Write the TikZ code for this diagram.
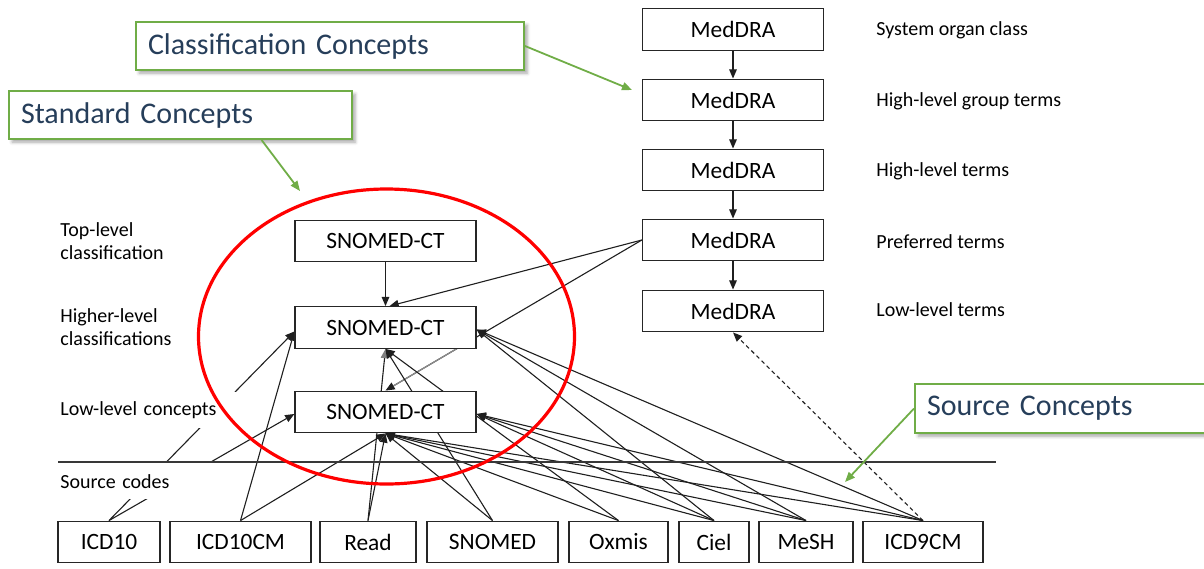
\documentclass[tikz,border=0pt]{standalone}
\usepackage{fontspec}
\setmainfont{Carlito}
\usetikzlibrary{arrows.meta,shadows.blur,calc}
\definecolor{callgreen}{RGB}{112,173,71}
\definecolor{calltext}{RGB}{38,62,90}
\definecolor{shadegrey}{RGB}{237,237,237}
\pgfdeclarelayer{shade}
\pgfdeclarelayer{conn}
\pgfsetlayers{shade,conn,main}

\begin{document}
\begin{tikzpicture}[x=0.5pt,y=-0.5pt,
  box/.style={draw=black!85, line width=0.65pt, fill=white, inner sep=0pt,
    minimum height=20.8pt, font=\fontsize{11.7}{14}\selectfont},
  conceptbox/.style={box, minimum width=90.5pt},
  lbl/.style={inner sep=0pt, anchor=west, align=left, font=\fontsize{10}{11.5}\selectfont},
  coverlbl/.style={anchor=north west, fill=white, inner xsep=2.5pt, inner ysep=0pt,
    minimum height=18pt, align=left, font=\fontsize{10}{11.5}\selectfont},
  callout/.style={anchor=north west, draw=callgreen, line width=1pt, fill=white,
    text=calltext, inner xsep=6pt, inner ysep=0pt, minimum height=24pt, align=left,
    font=\fontsize{15}{18}\selectfont,
    blur shadow={shadow xshift=1.6pt, shadow yshift=-1.6pt, shadow blur radius=1.6pt,
      shadow opacity=35}},
  conn/.style={draw=black!88, line width=0.55pt, -{Triangle[length=4.6pt,width=3.8pt]}},
  callarrow/.style={draw=callgreen, line width=0.9pt, -{Triangle[length=5pt,width=4pt]}}
]
\useasboundingbox (0,0) rectangle (1204,568);

% MedDRA hierarchy
\node[conceptbox] (m1) at (733,29.5) {MedDRA};
\node[conceptbox] (m2) at (733,100) {MedDRA};
\node[conceptbox] (m3) at (733,170) {MedDRA};
\node[conceptbox] (m4) at (733,240) {MedDRA};
\node[conceptbox] (m5) at (733,311) {MedDRA};

\node[lbl] at (876,30)  {System organ class};
\node[lbl] at (876,101) {High-level group terms};
\node[lbl] at (876,171) {High-level terms};
\node[lbl] at (876,242) {Preferred terms};
\node[lbl] at (876,310) {Low-level terms};

% SNOMED-CT hierarchy
\node[conceptbox] (s1) at (385.5,241) {SNOMED-CT};
\node[conceptbox] (s2) at (385.5,327.5) {SNOMED-CT};
\node[conceptbox] (s3) at (385.5,412) {SNOMED-CT};

\node[lbl] at (60,241.5) {Top-level\\classification};
\node[lbl] at (60,327.5) {Higher-level\\classifications};
\node[coverlbl, minimum width=90.5pt, text width=85.5pt] (lowlbl) at (55,392) {Low-level concepts};
\node[coverlbl, minimum width=79.5pt, text width=74.5pt] (srclbl) at (55,463) {Source codes};

% source vocabularies
\node[box, minimum width=51pt]   (icd10)   at (109,542)   {ICD10};
\node[box, minimum width=70.5pt] (icd10cm) at (240.5,542) {ICD10CM};
\node[box, minimum width=48pt]   (read)    at (368,542)   {Read};
\node[box, minimum width=65.5pt] (snomed)  at (492.5,542) {SNOMED};
\node[box, minimum width=49.5pt] (oxmis)   at (618.5,542) {Oxmis};
\node[box, minimum width=35pt]   (ciel)    at (714,542)   {Ciel};
\node[box, minimum width=47pt]   (mesh)    at (806,542)   {MeSH};
\node[box, minimum width=60pt]   (icd9)    at (923,542)   {ICD9CM};

% flat offset shadows behind the boxes
\begin{pgfonlayer}{shade}
  \foreach \n in {m1,m2,m3,m4,m5,s1,s2,s3,icd10,icd10cm,read,snomed,oxmis,ciel,mesh,icd9}
    \fill[shadegrey] ([shift={(10,10)}]\n.south west) rectangle ([shift={(10,10)}]\n.north east);
\end{pgfonlayer}

% boundary between standard and source concepts
\draw[black!78, line width=0.7pt] (58,462) coordinate (hl) -- (996,462) coordinate (hr);

% standard concepts ring
\draw[red, line width=1.6pt] (386.5,336.5) ellipse [x radius=188, y radius=147.5];

% callouts
\node[callout, text width=182pt] (cls) at (135,21) {Classification Concepts};
\node[callout, text width=159.5pt] (std) at (8,90) {Standard Concepts};
\node[callout, text width=151pt, minimum height=24.5pt] (src) at (914,383) {Source Concepts};

\coordinate (clstip) at (632,90);
\coordinate (stdtip) at (300,191);
\coordinate (srctip) at (845,482);
\draw[callarrow] (cls.east) -- (clstip);
\draw[callarrow] ($(std.south west)!0.735!(std.south east)$) -- (stdtip);
\draw[callarrow] (src.west) -- (srctip);

% relationships
\begin{pgfonlayer}{conn}
  \draw[conn] (m1.south) -- (m2.north);
  \draw[conn] (m2.south) -- (m3.north);
  \draw[conn] (m3.south) -- (m4.north);
  \draw[conn] (m4.south) -- (m5.north);

  \draw[conn] (s1.south) -- (s2.north);
  \draw[conn] (m4.west) -- ([xshift=2pt]s2.north);
  \draw[conn] (m4.west) -- (s3.north);
  % lighter stretch of that line between the two lower SNOMED-CT boxes
  \draw[black!45, line width=0.6pt, shorten >=4.6pt] ($(m4.west)!0.715!(s3.north)$) -- (s3.north);

  \draw[conn] (icd10.north) -- ([yshift=-2pt]s2.west);
  \draw[conn] (icd10.north) -- ([yshift=-1pt]s3.west);
  \draw[conn] (icd10cm.north) -- ([yshift=-2pt]s2.west);
  \draw[conn] (icd10cm.north) -- (s3.south);
  \draw[conn] (read.north) -- (s3.south);
  \draw[conn, -{Triangle[length=4.6pt,width=3.8pt,color=black!50]}] (read.north) -- (s2.south);
  \draw[conn] (snomed.north) -- (s3.south);
  \draw[conn] (snomed.north) -- (s2.south);
  \draw[conn] (oxmis.north) -- (s3.south);
  \draw[conn] (oxmis.north) -- (s2.south);
  \foreach \v in {ciel,mesh,icd9} {
    \draw[conn] (\v.north) -- ([yshift=-1pt]s2.east);
    \draw[conn] (\v.north) -- ([yshift=-1pt]s3.east);
    \draw[conn] (\v.north) -- (s3.south);
  }
  \draw[conn, dash pattern=on 2pt off 1.6pt] (icd9.north) -- (m5.south);
\end{pgfonlayer}
\end{tikzpicture}
\end{document}
